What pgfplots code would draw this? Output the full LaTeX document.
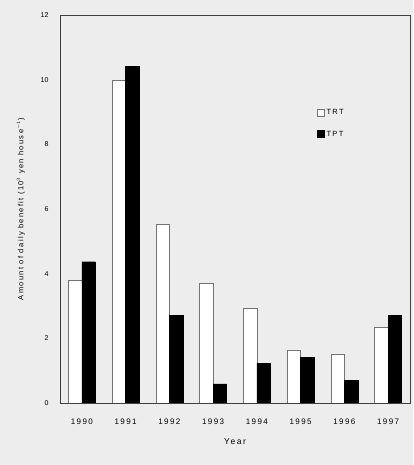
\documentclass[border=0pt]{standalone}
\usepackage{fontspec}
\setmainfont{Liberation Sans}
\newfontfamily\wide[LetterSpace=18]{Liberation Sans}
\usepackage{pgfplots}
\pgfplotsset{compat=1.18}
\definecolor{paper}{gray}{0.93}
\begin{document}
\begin{tikzpicture}[x=1pt,y=1pt]
\path[use as bounding box, fill=paper] (-60,-62) rectangle (353,403);
\begin{axis}[
  at={(0,0)}, anchor=south west,
  scale only axis, width=350pt, height=388pt,
  ybar=0pt, bar width=13.5pt,
  xmin=-0.5, xmax=7.5, ymin=0, ymax=12,
  xtick={0,...,7},
  xticklabels={1990,1991,1992,1993,1994,1995,1996,1997},
  ytick={0,2,...,12},
  major tick length=0pt,
  axis line style={draw=black!75, line width=0.9pt},
  x tick label style={font=\wide\fontsize{8}{9}\selectfont, yshift=-12pt},
  y tick label style={font=\fontsize{7}{8}\selectfont, xshift=-8pt},
  /pgf/number format/assume math mode=true,
  xlabel={\wide\fontsize{8.5}{9}\selectfont Year},
  xlabel style={yshift=-8pt},
  ylabel={\wide\fontsize{7.5}{8}\selectfont Amount of daily benefit (10$^3$ yen house$^{-1}$)},
  ylabel style={yshift=9pt},
  legend style={at={(0.725,0.768)}, anchor=north west, draw=none, fill=none,
    font=\wide\fontsize{7.5}{8}\selectfont, row sep=11pt,
    legend cell align=left},
  legend image code/.code={\draw[#1] (0pt,-3.5pt) rectangle (7pt,3.5pt);},
]
\addplot[fill=white, draw=black!55, line width=0.6pt] coordinates {
 (0,3.79) (1,9.97) (2,5.53) (3,3.69) (4,2.92) (5,1.64) (6,1.52) (7,2.34)};
\addplot[fill=black, draw=black] coordinates {
 (0,4.37) (1,10.41) (2,2.72) (3,0.59) (4,1.23) (5,1.41) (6,0.69) (7,2.71)};
\legend{TRT,TPT}
\end{axis}
\end{tikzpicture}
\end{document}
